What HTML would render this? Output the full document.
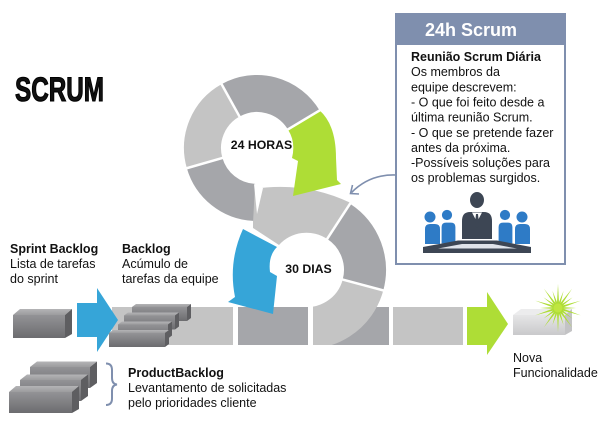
<!DOCTYPE html>
<html><head><meta charset="utf-8">
<style>
html,body{margin:0;padding:0;background:#fff;}
svg{display:block;}
text{font-family:"Liberation Sans",Arial,sans-serif;fill:#111;}
</style></head><body>
<svg width="606" height="423" viewBox="0 0 606 423" xmlns="http://www.w3.org/2000/svg">
<defs>
  <clipPath id="cb"><rect x="313" y="250" width="100" height="95"/></clipPath>
  <linearGradient id="gf" x1="0" y1="0" x2="0" y2="1"><stop offset="0" stop-color="#939396"/><stop offset="1" stop-color="#6c6c6f"/></linearGradient>
  <linearGradient id="gt" x1="0" y1="0" x2="0" y2="1"><stop offset="0" stop-color="#b4b4b6"/><stop offset="1" stop-color="#9c9c9e"/></linearGradient>
  <linearGradient id="gl" x1="0" y1="0" x2="0" y2="1"><stop offset="0" stop-color="#e6e6e7"/><stop offset="1" stop-color="#c9c9cb"/></linearGradient>
</defs>

<!-- Title -->
<text x="15" y="101" font-size="34" font-weight="bold" textLength="89" lengthAdjust="spacingAndGlyphs" stroke="#000" stroke-width="1.1" fill="#000">SCRUM</text>

<!-- Bar -->
<rect x="112" y="307" width="121" height="38" fill="#c4c4c4"/>
<rect x="238" y="307" width="70" height="38" fill="#a5a6aa"/>
<rect x="313" y="307" width="76" height="38" fill="#a5a6aa"/>
<rect x="393" y="307" width="70" height="38" fill="#c4c4c4"/>

<!-- Bottom ring (30 DIAS) -->
<path d="M253,189 Q305,181 350.6,202.9 L327.2,239 A37,37 0 0 0 279,245 L253,228 Z" fill="#c4c4c4"/>
<path d="M338.6,221.3 A58,58 0 0 1 363,285" stroke="#a5a6aa" stroke-width="42" fill="none"/>
<path d="M363,285 A58,58 0 0 1 296.9,327.1" stroke="#c4c4c4" stroke-width="42" fill="none" clip-path="url(#cb)"/>
<line x1="326.1" y1="240.6" x2="351.7" y2="201.2" stroke="#fff" stroke-width="2.5"/>
<line x1="340.8" y1="279.1" x2="386.2" y2="291.2" stroke="#fff" stroke-width="2.5"/>

<!-- Top ring (24 HORAS) -->
<path d="M230.6,100.3 A54.5,54.5 0 0 1 303.7,119.9" stroke="#a5a6aa" stroke-width="37" fill="none"/>
<path d="M204.6,163 A54.5,54.5 0 0 1 230.6,100.3" stroke="#c4c4c4" stroke-width="37" fill="none"/>
<path d="M254.1,202.4 A54.5,54.5 0 0 1 204.6,163" stroke="#a5a6aa" stroke-width="37" fill="none"/>
<line x1="240.5" y1="118.3" x2="220.1" y2="81.5" stroke="#fff" stroke-width="2.5"/>
<line x1="224.3" y1="157.4" x2="184" y2="169" stroke="#fff" stroke-width="2.5"/>
<polygon points="254,184 263,188 257,214" fill="#fff"/>

<!-- Green curved arrow -->
<path d="M287.9,129.5 L319.6,110.4 Q336,125 336,158 L337,180 L341,184 L293,196 L298,161 L292,158 Q296,142 287.9,129.5 Z" fill="#aedd36"/>
<line x1="286.1" y1="130.5" x2="322.1" y2="108.9" stroke="#fff" stroke-width="2.5"/>

<!-- Blue curved arrow -->
<path d="M243,229 Q228,262 235,297 L228,302 L273,314 L277,276 L270,272 Q268,256 277,247 Z" fill="#36a5d8"/>

<text x="261.5" y="149" font-size="12.3" font-weight="bold" text-anchor="middle">24 HORAS</text>
<text x="308.5" y="273" font-size="12.3" font-weight="bold" text-anchor="middle">30 DIAS</text>

<!-- Connector -->
<path d="M396,175 Q370,174 351.5,192.5" stroke="#7f8fae" stroke-width="1.6" fill="none"/>
<polyline points="352.5,185 350.5,193.5 359,194" stroke="#7f8fae" stroke-width="1.6" fill="none"/>

<!-- Right box -->
<rect x="396" y="14" width="169" height="250" fill="#fff" stroke="#7f8fae" stroke-width="2"/>
<rect x="395" y="13" width="171" height="32" fill="#7f8fae"/>
<text x="471" y="36" font-size="18" font-weight="bold" text-anchor="middle" style="fill:#fff">24h Scrum</text>
<g font-size="12.5">
<text x="411" y="61" font-weight="bold">Reunião Scrum Diária</text>
<text x="411" y="76.1">Os membros da</text>
<text x="411" y="91.3">equipe descrevem:</text>
<text x="411" y="106.5">- O que foi feito desde a</text>
<text x="411" y="121.6">última reunião Scrum.</text>
<text x="411" y="136.8">- O que se pretende fazer</text>
<text x="411" y="152">antes da próxima.</text>
<text x="411" y="167">-Possíveis soluções para</text>
<text x="411" y="182">os problemas surgidos.</text>
</g>

<!-- People icon -->
<g fill="#2e7bc6">
  <circle cx="430" cy="217" r="5.5"/>
  <path d="M425,244 L425,229 Q425,224 430,224 L435,224 Q440,224 440,229 L440,244 Z"/>
  <circle cx="522" cy="217" r="5.5"/>
  <path d="M515,244 L515,229 Q515,224 520,224 L525,224 Q530,224 530,229 L530,244 Z"/>
</g>
<g fill="#2e7bc6" stroke="#fff" stroke-width="1.2">
  <circle cx="447" cy="215" r="5.7"/>
  <path d="M441,244 L441,227 Q441,222 446,222 L451,222 Q456,222 456,227 L456,244 Z"/>
  <circle cx="505" cy="215" r="5.7"/>
  <path d="M498,244 L498,227 Q498,222 503,222 L508,222 Q513,222 513,227 L513,244 Z"/>
</g>
<ellipse cx="477" cy="200" rx="7" ry="8" fill="#3d4654"/>
<path d="M462,239 L462,221 Q462,212 470,212 L484,212 Q492,212 492,221 L492,239 Z" fill="#3d4654"/>
<polygon points="472,212.5 477,222 482,212.5" fill="#fff"/>
<polygon points="476,214 478,214 479.2,225 477,228 474.8,225" fill="#3d4654"/>
<path d="M423,247 L458,240.5 L497,240.5 L531,247 L531,253 L423,253 Z" fill="#3d4654"/>
<path d="M438,248.5 L462,244 L493,244 L517,248.5 Z" fill="#dfe3ea"/>

<!-- Sprint box -->
<polygon points="13,315 20,309 72,309 65,315" fill="url(#gt)"/>
<polygon points="65,315 72,309 72,334 65,338" fill="#5e5e61"/>
<rect x="13" y="315" width="52" height="23" fill="url(#gf)"/>

<!-- Blue arrow -->
<polygon points="77,303 97,303 97,288 118,320 97,352 97,337 77,337" fill="#36a5d8"/>

<!-- Backlog stack -->
<g>
  <polygon points="132,307 136,304 191,304 187,307" fill="url(#gt)"/>
  <polygon points="187,307 191,304 191,318 187,321" fill="#5e5e61"/>
  <rect x="132" y="307" width="55" height="14" fill="url(#gf)"/>
  <polygon points="124,315.5 128,312.5 179,312.5 175,315.5" fill="url(#gt)"/>
  <polygon points="175,315.5 179,312.5 179,326.5 175,329.5" fill="#5e5e61"/>
  <rect x="124" y="315.5" width="51" height="14" fill="url(#gf)"/>
  <polygon points="118,324.5 122,321.5 172,321.5 168,324.5" fill="url(#gt)"/>
  <polygon points="168,324.5 172,321.5 172,335.5 168,338.5" fill="#5e5e61"/>
  <rect x="118" y="324.5" width="50" height="14" fill="url(#gf)"/>
  <polygon points="109,333 113,330 169,330 165,333" fill="url(#gt)"/>
  <polygon points="165,333 169,330 169,344 165,347" fill="#5e5e61"/>
  <rect x="109" y="333" width="56" height="14" fill="url(#gf)"/>
</g>

<!-- Product backlog stack -->
<g>
  <polygon points="30,367 37,361.5 97,361.5 90,367" fill="url(#gt)"/>
  <polygon points="90,367 97,361.5 97,383 90,388" fill="#5e5e61"/>
  <rect x="30" y="367" width="60" height="21" fill="url(#gf)"/>
  <polygon points="20,380 27,374.5 88,374.5 81,380" fill="url(#gt)"/>
  <polygon points="81,380 88,374.5 88,396 81,401" fill="#5e5e61"/>
  <rect x="20" y="380" width="61" height="21" fill="url(#gf)"/>
  <polygon points="9,392 16,386 79,386 72,392" fill="url(#gt)"/>
  <polygon points="72,392 79,386 79,409 72,413" fill="#5e5e61"/>
  <rect x="9" y="392" width="63" height="21" fill="url(#gf)"/>
</g>

<!-- Brace -->
<path d="M106,363.5 Q112,363.5 112,370 L112,378 Q112,384 117,384.5 Q112,385 112,391 L112,398.5 Q112,405 106,405" stroke="#7f8fae" stroke-width="2" fill="none"/>

<!-- Green arrow right -->
<polygon points="467,307 487,307 487,292 508,324 487,355 487,345 467,345" fill="#aedd36"/>

<!-- New feature box -->
<polygon points="513,315 521,309 572,309 565,315" fill="#ececed"/>
<polygon points="565,315 572,309 572,331 565,335" fill="#c3c3c5"/>
<rect x="513" y="315" width="52" height="20" fill="url(#gl)"/>

<!-- Starburst -->
<g fill="#aedd36">
  <polygon points="558,284 559.3,308 556.7,308" transform="rotate(0 558 308)"/>
  <polygon points="558,290 559.3,308 556.7,308" transform="rotate(18 558 308)"/>
  <polygon points="558,284 559.3,308 556.7,308" transform="rotate(36 558 308)"/>
  <polygon points="558,290 559.3,308 556.7,308" transform="rotate(54 558 308)"/>
  <polygon points="558,284 559.3,308 556.7,308" transform="rotate(72 558 308)"/>
  <polygon points="558,290 559.3,308 556.7,308" transform="rotate(90 558 308)"/>
  <polygon points="558,284 559.3,308 556.7,308" transform="rotate(108 558 308)"/>
  <polygon points="558,290 559.3,308 556.7,308" transform="rotate(126 558 308)"/>
  <polygon points="558,284 559.3,308 556.7,308" transform="rotate(144 558 308)"/>
  <polygon points="558,290 559.3,308 556.7,308" transform="rotate(162 558 308)"/>
  <polygon points="558,284 559.3,308 556.7,308" transform="rotate(180 558 308)"/>
  <polygon points="558,290 559.3,308 556.7,308" transform="rotate(198 558 308)"/>
  <polygon points="558,284 559.3,308 556.7,308" transform="rotate(216 558 308)"/>
  <polygon points="558,290 559.3,308 556.7,308" transform="rotate(234 558 308)"/>
  <polygon points="558,284 559.3,308 556.7,308" transform="rotate(252 558 308)"/>
  <polygon points="558,290 559.3,308 556.7,308" transform="rotate(270 558 308)"/>
  <polygon points="558,284 559.3,308 556.7,308" transform="rotate(288 558 308)"/>
  <polygon points="558,290 559.3,308 556.7,308" transform="rotate(306 558 308)"/>
  <polygon points="558,284 559.3,308 556.7,308" transform="rotate(324 558 308)"/>
  <polygon points="558,290 559.3,308 556.7,308" transform="rotate(342 558 308)"/>
  <circle cx="558" cy="308" r="4.5" fill="#bfe640"/>
</g>

<!-- Labels -->
<g font-size="12.5">
<text x="10" y="253" font-weight="bold">Sprint Backlog</text>
<text x="10" y="268">Lista de tarefas</text>
<text x="10" y="283">do sprint</text>
<text x="122" y="253" font-weight="bold">Backlog</text>
<text x="122" y="268">Acúmulo de</text>
<text x="122" y="283">tarefas da equipe</text>
<text x="128" y="377" font-weight="bold">ProductBacklog</text>
<text x="128" y="392">Levantamento de solicitadas</text>
<text x="128" y="407">pelo prioridades cliente</text>
<text x="513" y="362">Nova</text>
<text x="513" y="377">Funcionalidade</text>
</g>
</svg>
</body></html>
